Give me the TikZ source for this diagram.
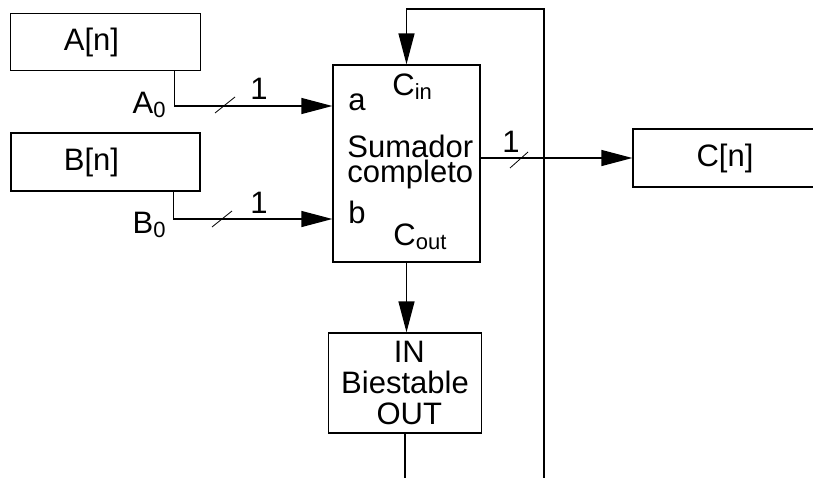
\documentclass[tikz,border=0pt]{standalone}
\usepackage{fontspec}
\setmainfont{Liberation Sans}
\usetikzlibrary{arrows.meta,positioning}
\newcommand{\pinsub}[1]{\raisebox{-2pt}{\fontsize{11pt}{11pt}\selectfont #1}}
\tikzset{
  every node/.style={font=\fontsize{15.5pt}{15.5pt}\selectfont, inner sep=0pt},
  blk/.style={draw, line width=0.65pt, minimum height=28.5pt},
  wire/.style={line width=0.65pt},
  arr/.style={wire, -{Triangle[length=15.5pt,width=8pt]}},
  tick/.style={line width=0.4pt},
  lbl/.style={anchor=base west},
}
\begin{document}
\begin{tikzpicture}[x=0.5pt,y=-0.5pt]
\useasboundingbox (0,0) rectangle (813,477);
\clip (0,0) rectangle (813,477);
% registers and adder
\node[blk, minimum width=95pt] (A) at (105.5,42) {A[n]\hspace*{14pt}};
\node[blk, minimum width=94.5pt, minimum height=29pt] (B) at (105.5,162) {B[n]\hspace*{14pt}};
\node[blk, minimum width=92pt, minimum height=29pt] (C) at (725,158) {C[n]};
\node[blk, minimum width=73.5pt, minimum height=98.5pt] (sum) at (406.5,163.5) {};
\node[blk, minimum width=76.5pt, minimum height=50pt, align=center] (bist) at (405,383) {\ IN\\Biestable\\\ OUT};
% adder pins
\node[lbl] (pa) at (348,110) {a};
\node[lbl] (pb) at (348,223) {b};
\node[lbl] (cin) at (392,95) {C\pinsub{in}};
\node[lbl] (cout) at (393,245) {C\pinsub{out}};
\node[lbl, align=left, font=\fontsize{15.5pt}{12.5pt}\selectfont] (name) at (347,182) {Sumador\\completo};
\node[anchor=base east] (a0) at (166,113) {A\pinsub{0}};
\node[anchor=base east] (b0) at (166,233) {B\pinsub{0}};
% ports
\coordinate (ina) at (sum.west |- 0,106);
\coordinate (inb) at (sum.west |- 0,219);
\coordinate (outs) at (sum.east |- 0,158);
\coordinate (top) at (sum.north |- 0,9);
\coordinate (fb) at (544,480);
\coordinate (bin) at (sum.south |- bist.north);
\coordinate (bo) at (bist.south |- 0,480);
% wires
\draw[arr] ([xshift=-13.5pt]A.south east) |- (ina);
\draw[arr] ([xshift=-13.5pt]B.south east) |- (inb);
\draw[arr] (outs) -- (C.west);
\draw[arr] (fb) |- (top) -- (sum.north);
\draw[arr] (sum.south) -- (bin);
\draw[wire] (bist.south) -- (bo);
% bus widths
\draw[tick] (215,113) -- (235,97);
\draw[tick] (212,227) -- (232,211);
\draw[tick] (510,168) -- (528,152);
\node (wa) at (259,89) {1};
\node (wb) at (259,203) {1};
\node (wc) at (511,142) {1};
\end{tikzpicture}
\end{document}
